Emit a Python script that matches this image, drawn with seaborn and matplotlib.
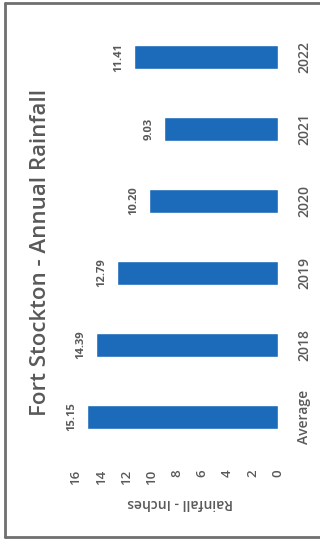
import matplotlib
matplotlib.use("Agg")
import matplotlib.pyplot as plt
import seaborn as sns
import pandas as pd
from matplotlib.lines import Line2D

categories = ["Average", "2018", "2019", "2020", "2021", "2022"]
rainfall = [15.15, 14.39, 12.79, 10.20, 9.03, 11.41]
x_ticks = [0, 2, 4, 6, 8, 10, 12, 14, 16]

title = "Fort Stockton - Annual Rainfall"
axis_label = "Rainfall - Inches"

sns.set_theme(style="white")
plt.rcParams['font.family'] = ['Open Sans', 'DejaVu Sans']

text_color = "#595959"
bar_color = "#1b6bba"

W, H = 320, 540
fig = plt.figure(figsize=(W / 100, H / 100), dpi=100)
fig.patch.set_facecolor("white")

# axes in pixel coords
ax_left, ax_right = 76, 278
ax_top, ax_bottom = 21, 453
ax = fig.add_axes([ax_left / W, 1 - ax_bottom / H, (ax_right - ax_left) / W, (ax_bottom - ax_top) / H])

df = pd.DataFrame({"category": categories, "rainfall": rainfall})
sns.barplot(data=df, x="rainfall", y="category", order=categories[::-1],
            orient="h", color=bar_color, width=0.34, saturation=1, ax=ax)

ax.set_xlim(16, 0)
ax.set_ylim(5.5, -0.5)
ax.set_xticks(x_ticks)
ax.set_xticklabels([str(t) for t in x_ticks], rotation=90, color=text_color,
                   fontsize=9.5, fontweight="semibold")
ax.yaxis.tick_right()
ax.set_yticks(range(len(categories)))
ax.set_yticklabels(categories[::-1], rotation=90, va="center", ha="left",
                   color=text_color, fontsize=10, fontweight="semibold")
ax.tick_params(axis="x", length=0, pad=12)
ax.tick_params(axis="y", length=0, pad=14)
ax.set_xlabel("")
ax.set_ylabel("")
for s in ax.spines.values():
    s.set_visible(False)
ax.set_facecolor("white")

for cont in ax.containers:
    ax.bar_label(cont, fmt="%.2f", padding=7, rotation=90,
                 color=text_color, fontsize=8, fontweight="bold")

fig.text(180 / W, 1 - 503 / H, axis_label, rotation=180, ha="center", va="center",
         color=text_color, fontsize=10, fontweight="semibold")
fig.text(41 / W, 1 - 252 / H, title, rotation=90, ha="center", va="center",
         color=text_color, fontsize=16, fontweight="semibold")

# frame
frame_color = "#6f6f6f"
fig.add_artist(Line2D([5 / W, 5 / W], [1 - 3 / H, 1 - 537 / H], color=frame_color, lw=2, transform=fig.transFigure))
fig.add_artist(Line2D([5 / W, 1], [1 - 3 / H, 1 - 3 / H], color=frame_color, lw=2, transform=fig.transFigure))
fig.add_artist(Line2D([5 / W, 1], [1 - 537 / H, 1 - 537 / H], color=frame_color, lw=2, transform=fig.transFigure))

fig.savefig("out.png", dpi=100, facecolor="white")
